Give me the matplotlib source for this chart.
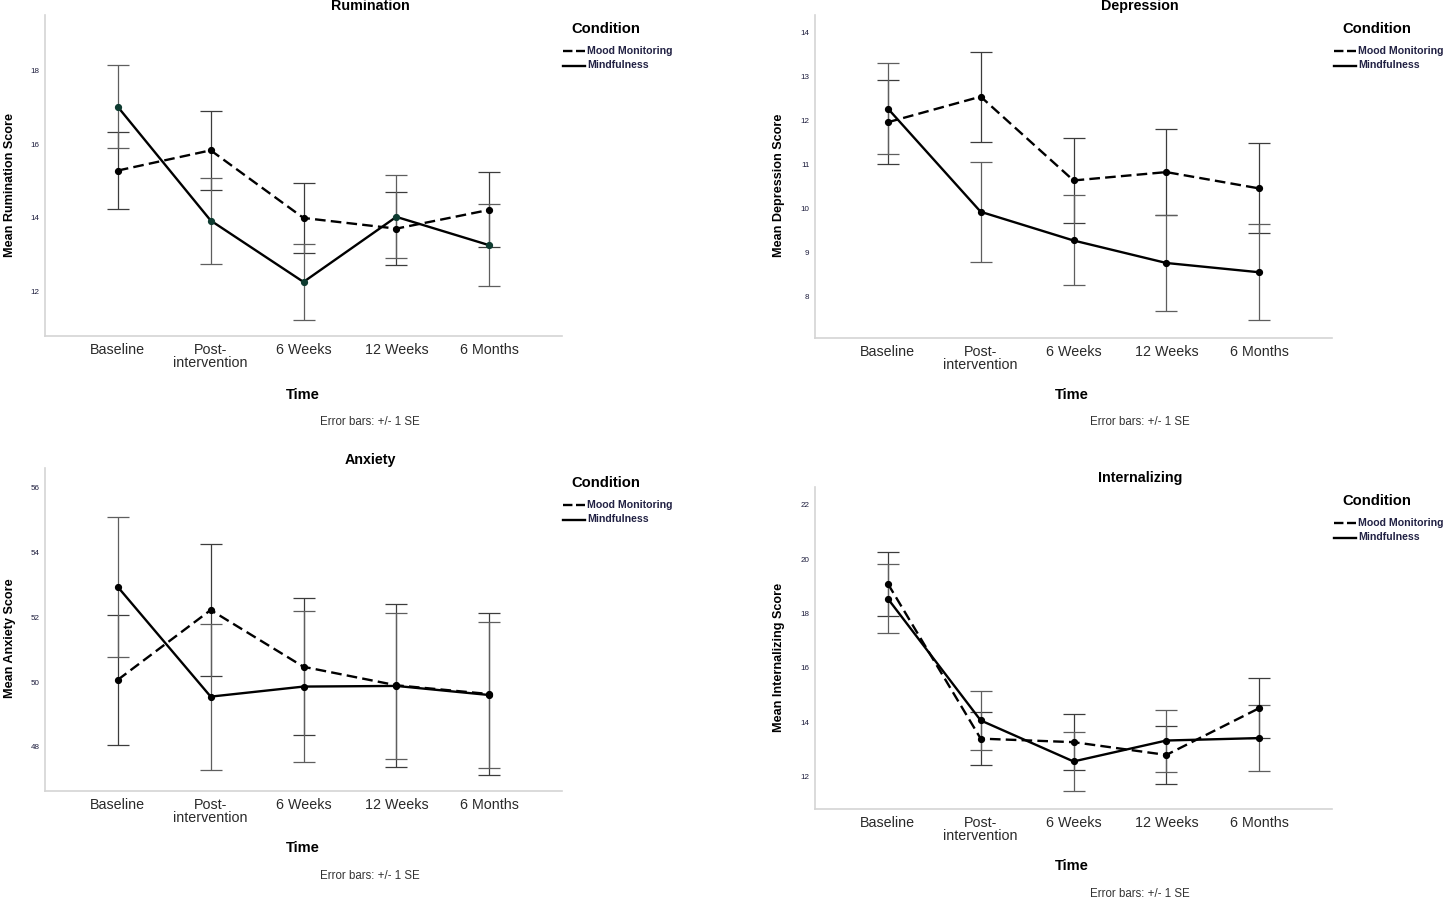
import numpy as np
import matplotlib
matplotlib.use("Agg")
import matplotlib.pyplot as plt
from matplotlib.lines import Line2D

plt.rcParams['font.family'] = ['Liberation Sans', 'DejaVu Sans']

times = ["Baseline", "Post-\nintervention", "6 Weeks", "12 Weeks", "6 Months"]

# Rumination
rum_mood = [15.29, 15.84, 14.00, 13.71, 14.22]
rum_mood_se = [1.04, 1.08, 0.95, 1.00, 1.02]
rum_mind = [17.02, 13.93, 12.26, 14.03, 13.26]
rum_mind_se = [1.13, 1.17, 1.04, 1.13, 1.12]

# Depression
dep_mood = [11.96, 12.54, 10.64, 10.83, 10.46]
dep_mood_se = [0.95, 1.02, 0.97, 0.98, 1.02]
dep_mind = [12.27, 9.93, 9.28, 8.77, 8.56]
dep_mind_se = [1.03, 1.13, 1.02, 1.09, 1.09]

# Anxiety
anx_mood = [50.07, 52.22, 50.47, 49.90, 49.63]
anx_mood_se = [2.00, 2.03, 2.11, 2.51, 2.49]
anx_mind = [52.93, 49.55, 49.86, 49.88, 49.60]
anx_mind_se = [2.15, 2.25, 2.34, 2.24, 2.25]

# Internalizing
int_mood = [19.09, 13.39, 13.26, 12.79, 14.51]
int_mood_se = [1.18, 0.98, 1.03, 1.06, 1.11]
int_mind = [18.54, 14.06, 12.55, 13.32, 13.41]
int_mind_se = [1.26, 1.08, 1.10, 1.14, 1.22]

W, H = 1445, 899
fig = plt.figure(figsize=(W / 100, H / 100), dpi=100)


def fx(x):
    return x / W


def fy(y):
    return 1 - y / H


def panel(box, ylim, yticks, mood, mood_se, mind, mind_se, title, ylabel,
          title_xy, time_xy, note_xy, ylab_xy, leg_xy, mind_marker="black"):
    x0, y0, x1, y1 = box
    ax = fig.add_axes([fx(x0), fy(y1), (x1 - x0) / W, (y1 - y0) / H])
    x = np.arange(len(times))
    ax.errorbar(x, mood, yerr=mood_se, fmt="none", ecolor="#3c3c3c",
                elinewidth=0.9, capsize=8, capthick=0.9, zorder=2)
    ax.errorbar(x, mind, yerr=mind_se, fmt="none", ecolor="#5e5e5e",
                elinewidth=0.9, capsize=8, capthick=0.9, zorder=2)
    ax.plot(x, mood, color="black", lw=1.7, ls=(0, (4.5, 2.2)), marker="o",
            ms=4.2, mfc="black", mec="black", zorder=3)
    ax.plot(x, mind, color="black", lw=1.7, ls="-", marker="o",
            ms=4.2, mfc=mind_marker, mec=mind_marker, zorder=3)
    ax.set_xlim(-0.785, 4.785)
    ax.set_ylim(*ylim)
    ax.set_yticks(yticks)
    ax.set_yticklabels([str(t) for t in yticks], fontsize=5.8, color="#1c1c3c")
    ax.set_xticks(x)
    ax.set_xticklabels(times, fontsize=10.3, color="#2a2a2a", linespacing=0.9)
    ax.tick_params(axis="both", length=0)
    ax.tick_params(axis="y", pad=4)
    ax.tick_params(axis="x", pad=5)
    for s in ["top", "right"]:
        ax.spines[s].set_visible(False)
    for s in ["left", "bottom"]:
        ax.spines[s].set_color("#d4d4d4")
        ax.spines[s].set_linewidth(1.2)

    fig.text(fx(title_xy[0]), fy(title_xy[1]), title, ha="center", va="center",
             fontsize=10.3, fontweight="bold")
    fig.text(fx(time_xy[0]), fy(time_xy[1]), "Time", ha="center", va="center",
             fontsize=10.5, fontweight="bold")
    fig.text(fx(note_xy[0]), fy(note_xy[1]), "Error bars: +/- 1 SE", ha="center",
             va="center", fontsize=8.3, color="#333333")
    fig.text(fx(ylab_xy[0]), fy(ylab_xy[1]), ylabel, ha="center", va="center",
             rotation=90, fontsize=9.1, fontweight="bold")

    lx, ly = leg_xy
    fig.text(fx(lx + 43), fy(ly), "Condition", ha="center", va="center",
             fontsize=10.6, fontweight="bold")
    for i, (lab, ls) in enumerate([("Mood Monitoring", (0, (4.0, 1.5))),
                                   ("Mindfulness", "-")]):
        yy = ly + 22 + 14.5 * i
        fig.add_artist(Line2D([fx(lx), fx(lx + 22)], [fy(yy), fy(yy)],
                              transform=fig.transFigure, color="black",
                              lw=1.7, ls=ls))
        fig.text(fx(lx + 24), fy(yy), lab, ha="left", va="center",
                 fontsize=7.6, fontweight="bold", color="#222244")
    return ax


panel((45, 15, 562, 336), (10.79, 19.52), [12, 14, 16, 18],
      rum_mood, rum_mood_se, rum_mind, rum_mind_se,
      "Rumination", "Mean Rumination Score",
      (370, 6), (303, 395), (370, 422), (10, 185), (563, 29),
      mind_marker="#0e3b30")

panel((815, 15, 1332, 338), (7.07, 14.39), [8, 9, 10, 11, 12, 13, 14],
      dep_mood, dep_mood_se, dep_mind, dep_mind_se,
      "Depression", "Mean Depression Score",
      (1140, 6), (1072, 395), (1140, 422), (779, 185), (1334, 29))

panel((45, 468, 562, 791), (46.64, 56.6), [48, 50, 52, 54, 56],
      anx_mood, anx_mood_se, anx_mind, anx_mind_se,
      "Anxiety", "Mean Anxiety Score",
      (370, 460), (303, 848), (370, 876), (10, 638), (563, 483))

panel((815, 487, 1332, 809), (10.8, 22.65), [12, 14, 16, 18, 20, 22],
      int_mood, int_mood_se, int_mind, int_mind_se,
      "Internalizing", "Mean Internalizing Score",
      (1140, 478), (1072, 866), (1140, 894), (779, 657), (1334, 501))

fig.savefig("out.png", dpi=100)
